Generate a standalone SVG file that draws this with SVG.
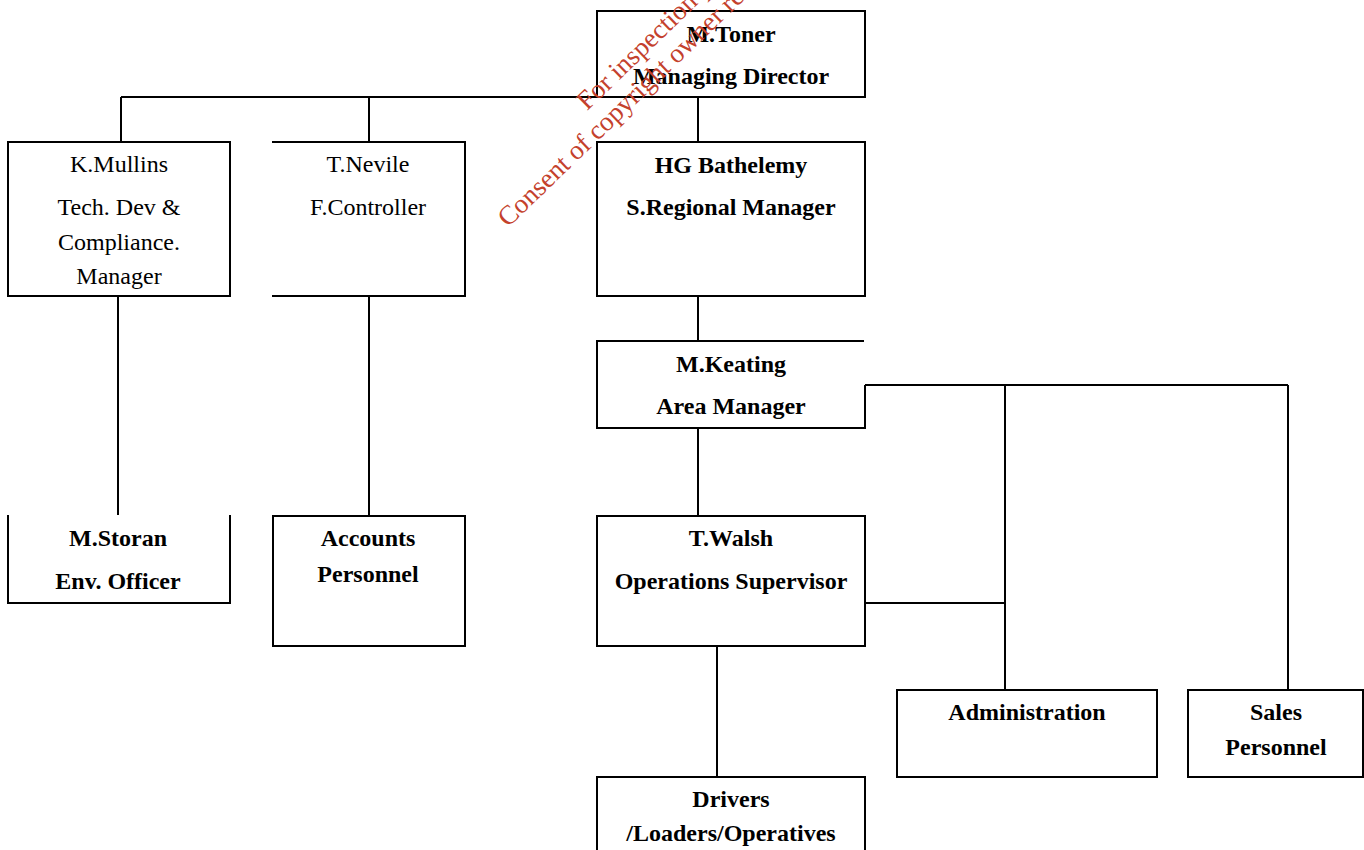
<svg xmlns="http://www.w3.org/2000/svg" width="1364" height="850" viewBox="0 0 1364 850">
<style>
.box{fill:none;stroke:#000;stroke-width:2}
.ln{fill:none;stroke:#000;stroke-width:2}
.r{font-family:"Liberation Serif","Times New Roman",serif;font-size:24px;fill:#000;text-anchor:middle}
.b{font-family:"Liberation Serif","Times New Roman",serif;font-size:24px;font-weight:bold;fill:#000;text-anchor:middle}
.wm{font-family:"Liberation Serif","Times New Roman",serif;font-size:27px;fill:#c4412c}
</style>
<rect width="1364" height="850" fill="#fff"/>
<g id="connectors">
<path class="ln" d="M121,97 H597 M121,97 V142 M369,97 V142 M698,97 V142"/>
<path class="ln" d="M118,296 V515 M369,296 V516"/>
<path class="ln" d="M698,296 V341 M698,428 V516"/>
<path class="ln" d="M865,385 H1288 M1005,385 V690 M1288,385 V690 M865,603 H1005"/>
<path class="ln" d="M717,646 V777"/>
</g>
<g id="toner">
<rect class="box" x="597" y="11" width="268" height="86"/>
<text class="b" x="731" y="42">M.Toner</text>
<text class="b" x="731" y="84">Managing Director</text>
</g>
<g id="mullins">
<rect class="box" x="8" y="142" width="222" height="154"/>
<text class="r" x="119" y="172">K.Mullins</text>
<text class="r" x="119" y="215">Tech. Dev &amp;</text>
<text class="r" x="119" y="250">Compliance.</text>
<text class="r" x="119" y="284">Manager</text>
</g>
<g id="nevile">
<path class="box" d="M272,142 H465 V296 H272"/>
<text class="r" x="368" y="172">T.Nevile</text>
<text class="r" x="368" y="215">F.Controller</text>
</g>
<g id="bathelemy">
<rect class="box" x="597" y="142" width="268" height="154"/>
<text class="b" x="731" y="173">HG Bathelemy</text>
<text class="b" x="731" y="215">S.Regional Manager</text>
</g>
<g id="keating">
<path class="box" d="M864,341 H597 V428 H865 V385"/>
<text class="b" x="731" y="372">M.Keating</text>
<text class="b" x="731" y="414">Area Manager</text>
</g>
<g id="storan">
<path class="box" d="M8,515 V603 H230 V515"/>
<text class="b" x="118" y="546">M.Storan</text>
<text class="b" x="118" y="589">Env. Officer</text>
</g>
<g id="accounts">
<rect class="box" x="273" y="516" width="192" height="130"/>
<text class="b" x="368" y="546">Accounts</text>
<text class="b" x="368" y="582">Personnel</text>
</g>
<g id="walsh">
<rect class="box" x="597" y="516" width="268" height="130"/>
<text class="b" x="731" y="546">T.Walsh</text>
<text class="b" x="731" y="589">Operations Supervisor</text>
</g>
<g id="administration">
<rect class="box" x="897" y="690" width="260" height="87"/>
<text class="b" x="1027" y="720">Administration</text>
</g>
<g id="sales">
<rect class="box" x="1188" y="690" width="175" height="87"/>
<text class="b" x="1276" y="720">Sales</text>
<text class="b" x="1276" y="755">Personnel</text>
</g>
<g id="drivers">
<path class="box" d="M597,852 V777 H865 V852"/>
<text class="b" x="731" y="807">Drivers</text>
<text class="b" x="731" y="841">/Loaders/Operatives</text>
</g>
<g id="watermark" transform="translate(508,228) rotate(-44)">
<text class="wm" x="138" y="-29">For inspection p</text>
<text class="wm" x="0" y="0">Consent of copyright owner re</text>
</g>
</svg>
